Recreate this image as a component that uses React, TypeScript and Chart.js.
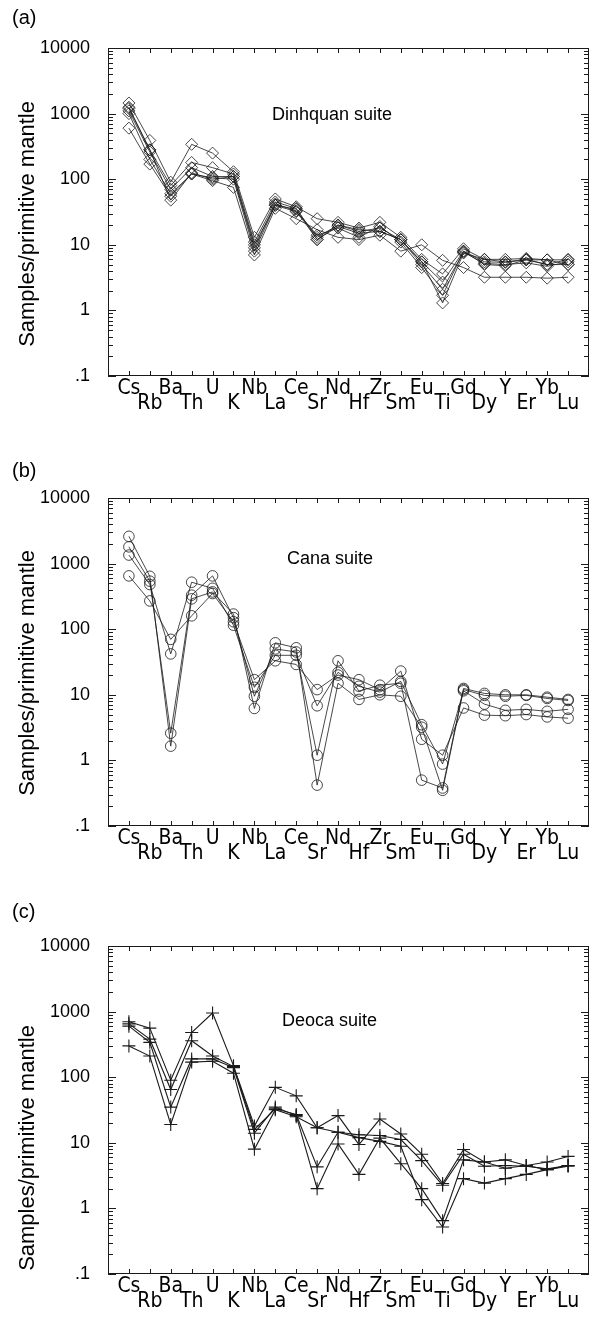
import React, { useEffect, useRef } from 'react';
import { Chart, registerables } from 'chart.js';

Chart.register(...registerables);

// ---------- data ----------
const ELEMENTS = ['Cs', 'Rb', 'Ba', 'Th', 'U', 'K', 'Nb', 'La', 'Ce', 'Sr', 'Nd', 'Hf', 'Zr', 'Sm', 'Eu', 'Ti', 'Gd', 'Dy', 'Y', 'Er', 'Yb', 'Lu'];
const Y_TICKS = [0.1, 1, 10, 100, 1000, 10000];
const Y_TICK_LABELS = ['.1', '1', '10', '100', '1000', '10000'];
const Y_AXIS_TITLE = 'Samples/primitive mantle';

// (a) Dinhquan suite
const DINHQUAN_1 = [600, 170, 55, 120, 95, 75, 7, 36, 25, 17, 13, 12, 14, 8, 10, 5.8, 4.5, 3.2, 3.2, 3.2, 3.1, 3.2];
const DINHQUAN_2 = [1450, 390, 90, 340, 250, 130, 13, 50, 38, 25, 22, 18, 22, 13, 6, 3.6, 8.7, 6, 6, 6.2, 5.9, 5.9];
const DINHQUAN_3 = [1250, 280, 80, 180, 150, 120, 11, 45, 36, 12, 20, 16, 18, 12, 5.5, 2.7, 8, 5.5, 5.4, 5.9, 5, 5];
const DINHQUAN_4 = [1100, 260, 70, 150, 110, 110, 9, 42, 33, 12, 19, 15, 16, 12, 5, 2.1, 7.7, 5.2, 5, 5.3, 4.7, 5.5];
const DINHQUAN_5 = [1000, 200, 60, 120, 105, 100, 8, 40, 32, 14, 18, 13, 19, 11, 4.5, 1.7, 8, 5, 4.8, 5.9, 5.9, 5];
const DINHQUAN_6 = [1200, 280, 48, 125, 100, 110, 10, 40, 35, 13, 20, 17, 16, 12, 5.5, 1.3, 7.5, 6, 5.5, 6, 5, 6];

// (b) Cana suite
const CANA_1 = [650, 270, 70, 160, 350, 130, 17, 33, 29, 12, 20, 17, 12, 23, 2.1, 1.2, 6.3, 4.9, 4.8, 5, 4.6, 4.4];
const CANA_2 = [1350, 480, 42, 520, 420, 115, 13, 40, 40, 6.8, 22, 13.5, 11, 16, 3.5, 0.88, 11.5, 7.2, 5.8, 6, 5.6, 6];
const CANA_3 = [1800, 540, 2.6, 330, 650, 150, 9.5, 50, 45, 1.2, 33, 11.4, 14, 15, 0.5, 0.38, 12.5, 10.5, 10, 10, 9.2, 8.5];
const CANA_4 = [2600, 640, 1.65, 290, 370, 170, 6.2, 62, 52, 0.42, 15, 8.5, 10, 9.5, 3.2, 0.35, 12, 9.8, 9.5, 9.8, 8.8, 8.2];

// (c) Deoca suite
const DEOCA_1 = [700, 560, 90, 480, 950, 150, 18, 70, 52, 17, 26, 9.4, 23, 13.6, 6.7, 2.4, 7.9, 5.1, 5.5, 4.5, 5.1, 6.2];
const DEOCA_2 = [650, 380, 65, 360, 210, 145, 16, 33, 27, 4.3, 14.5, 13.3, 12.9, 11.2, 5.35, 2.25, 6.7, 4.4, 4.5, 4.4, 4, 4.5];
const DEOCA_3 = [600, 340, 35, 190, 190, 140, 14, 35, 26, 2.0, 9.6, 3.3, 11.8, 4.8, 2.0, 0.65, 5.5, 5.1, 4.1, 4.5, 3.9, 4.4];
const DEOCA_4 = [300, 210, 19, 170, 175, 115, 8, 32, 25, 17, 14.5, 12, 10.5, 8.85, 1.36, 0.52, 2.84, 2.43, 2.84, 3.3, 3.9, 4.5];

// ---------- panel setup ----------
const FONT = "'Liberation Sans', Arial, Helvetica, sans-serif";
const LABEL_FONT = "'Liberation Sans Narrow', 'DejaVu Sans Condensed', 'Liberation Sans', Arial, sans-serif";

const PANELS = [
  {
    tag: '(a)', suite: 'Dinhquan suite', series: [DINHQUAN_1, DINHQUAN_2, DINHQUAN_3, DINHQUAN_4, DINHQUAN_5, DINHQUAN_6],
    pointStyle: 'rectRot', radius: 6, lineWidth: 0.8, pointWidth: 0.8,
    top: 0, tagY: 18, suiteX: 272, suiteY: 115, titleY: 224,
  },
  {
    tag: '(b)', suite: 'Cana suite', series: [CANA_1, CANA_2, CANA_3, CANA_4],
    pointStyle: 'circle', radius: 5.3, lineWidth: 0.8, pointWidth: 0.8,
    top: 450, tagY: 21, suiteX: 287, suiteY: 109, titleY: 223,
  },
  {
    tag: '(c)', suite: 'Deoca suite', series: [DEOCA_1, DEOCA_2, DEOCA_3, DEOCA_4],
    pointStyle: 'cross', radius: 6.5, lineWidth: 1.1, pointWidth: 1.1,
    top: 898, tagY: 14, suiteX: 282, suiteY: 123, titleY: 250,
  },
];

const decorPlugin = {
  id: 'decor',
  afterDraw(chart: any, _args: any, opts: any) {
    const { ctx, chartArea: a, scales } = chart;
    const xs = scales.x;
    const ys = scales.y;
    ctx.save();
    ctx.strokeStyle = '#1a1a1a';
    ctx.lineWidth = 1;
    ctx.strokeRect(Math.round(a.left) + 0.5, Math.round(a.top) + 0.5, Math.round(a.right - a.left) - 1, Math.round(a.bottom - a.top) - 1);
    ctx.beginPath();
    for (let i = 1; i <= ELEMENTS.length; i++) {
      const px = Math.round(xs.getPixelForValue(i)) + 0.5;
      ctx.moveTo(px, a.bottom);
      ctx.lineTo(px, a.bottom - 5);
      ctx.moveTo(px, a.top);
      ctx.lineTo(px, a.top + 5);
    }
    for (let d = -1; d <= 4; d++) {
      for (let m = 1; m <= 9; m++) {
        const v = m * Math.pow(10, d);
        if (v > 10000.0001) continue;
        const py = Math.round(ys.getPixelForValue(v)) + 0.5;
        const len = m === 1 ? 8 : 5;
        ctx.moveTo(a.left, py);
        ctx.lineTo(a.left + len, py);
        ctx.moveTo(a.right, py);
        ctx.lineTo(a.right - len, py);
      }
    }
    ctx.stroke();

    ctx.fillStyle = '#000';
    ctx.font = `20px ${FONT}`;
    ctx.textAlign = 'left';
    ctx.textBaseline = 'middle';
    ctx.fillText(opts.tag, 12, opts.tagY);

    ctx.font = `18px ${FONT}`;
    ctx.fillText(opts.suite, opts.suiteX, opts.suiteY);

    ctx.save();
    ctx.translate(28, opts.titleY);
    ctx.rotate(-Math.PI / 2);
    ctx.textAlign = 'center';
    ctx.font = `22px ${FONT}`;
    ctx.fillText(Y_AXIS_TITLE, 0, 0);
    ctx.restore();

    ctx.restore();
  },
};

function Panel({ cfg }: { cfg: any }) {
  const ref = useRef<HTMLCanvasElement | null>(null);
  useEffect(() => {
    if (!ref.current) return;
    const datasets = cfg.series.map((vals: number[], k: number) => ({
      label: `${cfg.suite} ${k + 1}`,
      data: vals.map((v, i) => ({ x: i + 1, y: v })),
      borderColor: '#1a1a1a',
      borderWidth: cfg.lineWidth,
      backgroundColor: 'rgba(0,0,0,0)',
      pointStyle: cfg.pointStyle,
      pointRadius: cfg.radius,
      pointBorderWidth: cfg.pointWidth,
      pointBorderColor: '#1a1a1a',
      pointBackgroundColor: 'rgba(0,0,0,0)',
      tension: 0,
      fill: false,
    }));
    const chart = new Chart(ref.current, {
      type: 'line',
      data: { datasets },
      plugins: [decorPlugin],
      options: {
        animation: false,
        responsive: false,
        events: [],
        layout: { padding: { top: 48, right: 8, left: 0, bottom: 0 } },
        plugins: {
          legend: { display: false },
          tooltip: { enabled: false },
          decor: { tag: cfg.tag, tagY: cfg.tagY, suite: cfg.suite, suiteX: cfg.suiteX, suiteY: cfg.suiteY, titleY: cfg.titleY },
        } as any,
        scales: {
          x: {
            type: 'linear',
            min: 0,
            max: ELEMENTS.length + 1,
            grid: { display: false, drawTicks: false },
            border: { display: false },
            afterBuildTicks: (s: any) => { s.ticks = ELEMENTS.map((_, i) => ({ value: i + 1 })); },
            afterFit: (s: any) => { s.height = 44; },
            ticks: {
              autoSkip: false,
              maxRotation: 0,
              minRotation: 0,
              padding: 5,
              color: '#000',
              font: { family: LABEL_FONT, size: 21, lineHeight: 0.72 },
              callback: (value: any) => {
                const i = Math.round(Number(value)) - 1;
                const name = ELEMENTS[i];
                if (!name) return '';
                return i % 2 === 0 ? [name, ''] : ['', name];
              },
            },
          },
          y: {
            type: 'logarithmic',
            min: 0.1,
            max: 10000,
            grid: { display: false, drawTicks: false },
            border: { display: false },
            afterBuildTicks: (s: any) => { s.ticks = Y_TICKS.map((v) => ({ value: v })); },
            afterFit: (s: any) => { s.width = 108; },
            ticks: {
              padding: 18,
              color: '#000',
              font: { family: FONT, size: 18 },
              callback: (value: any) => {
                const idx = Y_TICKS.findIndex((t) => Math.abs(t - Number(value)) < 1e-9 * Math.max(1, t));
                return idx >= 0 ? Y_TICK_LABELS[idx] : '';
              },
            },
          },
        },
      } as any,
    });
    return () => chart.destroy();
  }, [cfg]);
  return (
    <div style={{ position: 'absolute', left: 0, top: cfg.top, width: 597, height: 420 }}>
      <canvas ref={ref} width={597} height={420} style={{ display: 'block', width: 597, height: 420 }} />
    </div>
  );
}

export default function App() {
  return (
    <div style={{ position: 'absolute', left: 0, top: 0, width: 597, height: 1318, background: '#fff' }}>
      {PANELS.map((p) => (
        <Panel key={p.tag} cfg={p} />
      ))}
    </div>
  );
}
